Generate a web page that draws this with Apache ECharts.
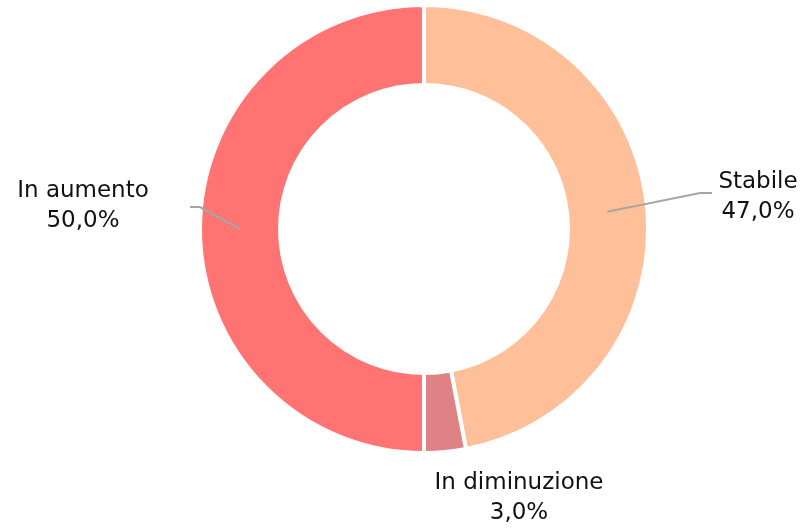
<!DOCTYPE html>
<html>
<head>
<meta charset="utf-8">
<script src="https://cdn.jsdelivr.net/npm/echarts@6/dist/echarts.min.js"></script>
<style>
  html, body { margin: 0; padding: 0; background: #fff; }
  #chart { width: 804px; height: 528px; }
</style>
</head>
<body>
<div id="chart"></div>
<script>
// dati
var categories = ["Stabile", "In diminuzione", "In aumento"];
var shares = [47, 3, 50];
var sliceColors = ["#FFBF99", "#DE8285", "#FF7373"];

var center = [424, 229];
var ringMid = 184;
// posizione etichette (centro testo) e fine linea guida
var labelSpots = [
    { x: 758, y: 197, bend: [700, 193], end: [712, 193], line: true },
    { x: 519, y: 498, line: false },
    { x: 83, y: 206, bend: [200, 207], end: [190, 207], line: true }
];

var sliceData = [];
var labelData = [];
for (var i = 0; i < categories.length; i++) {
    sliceData.push({
        name: categories[i],
        value: shares[i],
        itemStyle: { color: sliceColors[i] }
    });
    labelData.push({
        name: categories[i],
        value: shares[i],
        labelLine: { show: labelSpots[i].line }
    });
}

var chart = echarts.init(document.getElementById("chart"));
var option = {
    backgroundColor: "#ffffff",
    animation: false,
    series: [
        {
            // anello
            type: "pie",
            z: 1,
            center: center,
            radius: [144, 224],
            startAngle: 90,
            clockwise: true,
            silent: true,
            itemStyle: {
                borderColor: "#ffffff",
                borderWidth: 4
            },
            label: { show: false },
            labelLine: { show: false },
            data: sliceData
        },
        {
            // etichette e linee sopra l'anello
            type: "pie",
            z: 10,
            center: center,
            radius: [144, 224],
            startAngle: 90,
            clockwise: true,
            silent: true,
            itemStyle: { color: "transparent", borderWidth: 0 },
            label: {
                show: true,
                position: "outside",
                formatter: function (p) {
                    return p.name + "\n" + p.value.toFixed(1).replace(".", ",") + "%";
                },
                fontFamily: "DejaVu Sans",
                fontSize: 23,
                lineHeight: 30,
                color: "#111111",
                align: "center"
            },
            labelLine: {
                show: true,
                length: 40,
                length2: 12,
                lineStyle: { color: "#a6a6a6", width: 2 }
            },
            labelLayout: function (params) {
                var spot = labelSpots[params.dataIndex];
                var res = { x: spot.x, y: spot.y, align: "center", verticalAlign: "middle" };
                var pts = params.labelLinePoints;
                if (spot.line && pts && pts[0]) {
                    var dx = pts[0][0] - center[0];
                    var dy = pts[0][1] - center[1];
                    var len = Math.sqrt(dx * dx + dy * dy);
                    var start = [center[0] + dx / len * ringMid, center[1] + dy / len * ringMid];
                    res.labelLinePoints = [start, spot.bend, spot.end];
                }
                return res;
            },
            data: labelData
        }
    ]
};
option && chart.setOption(option);
</script>
</body>
</html>
